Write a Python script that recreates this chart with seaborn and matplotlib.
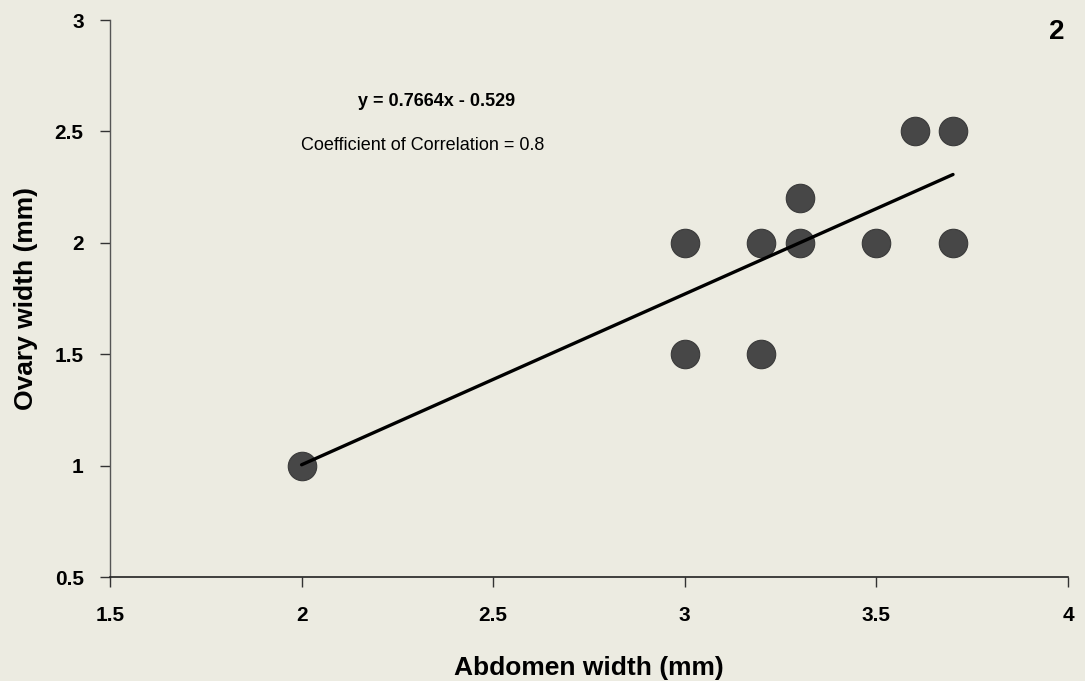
import matplotlib
matplotlib.use("Agg")
import matplotlib.pyplot as plt
import seaborn as sns
import numpy as np
import pandas as pd

abdomen = [2.0, 3.0, 3.0, 3.2, 3.2, 3.3, 3.3, 3.5, 3.6, 3.7, 3.7]
ovary = [1.0, 2.0, 1.5, 2.0, 1.5, 2.2, 2.0, 2.0, 2.5, 2.5, 2.0]
slope = 0.7664
intercept = -0.529
x_ticks = [1.5, 2, 2.5, 3, 3.5, 4]
y_ticks = [0.5, 1, 1.5, 2, 2.5, 3]

df = pd.DataFrame({"Abdomen": abdomen, "Ovary": ovary})

sns.set_style("white")
plt.rcParams["font.family"] = ["Liberation Sans", "DejaVu Sans"]
plt.rcParams["text.color"] = "black"
plt.rcParams["xtick.color"] = "black"
plt.rcParams["ytick.color"] = "black"
plt.rcParams["axes.labelcolor"] = "black"
bg = "#ecebe1"
fig = plt.figure(figsize=(10.85, 6.81), dpi=100, facecolor=bg)
ax = fig.add_axes([0.1014, 0.1527, 0.8829, 0.8179], facecolor=bg)

sns.scatterplot(data=df, x="Abdomen", y="Ovary", ax=ax, s=420, color="#474747",
                edgecolor="#3a3a3a", linewidth=0.8, zorder=3)
lx = np.array([min(abdomen), max(abdomen)])
sns.lineplot(x=lx, y=slope * lx + intercept, ax=ax, color="black", linewidth=2.4, zorder=4)

ax.set_xlim(1.5, 4)
ax.set_ylim(0.5, 3)
ax.set_xticks(x_ticks)
ax.set_yticks(y_ticks)
ax.set_xticklabels([f"{t:g}" for t in x_ticks], fontsize=15, fontweight="bold")
ax.set_yticklabels([f"{t:g}" for t in y_ticks], fontsize=15, fontweight="bold")
ax.tick_params(axis="both", bottom=True, left=True, direction="out", length=7, width=1,
               color="#333333", pad=12)
ax.tick_params(axis="x", pad=14)
for s in ["top", "right"]:
    ax.spines[s].set_visible(False)
ax.spines["left"].set_color("#555555")
ax.spines["left"].set_linewidth(1.0)
ax.spines["bottom"].set_color("#222222")
ax.spines["bottom"].set_linewidth(1.2)
ax.set_xlabel("Abdomen width (mm)", fontsize=19, fontweight="bold", labelpad=22)
ax.set_ylabel("Ovary width (mm)", fontsize=19, fontweight="bold", labelpad=12)

fig.text(437 / 1085, 1 - 102 / 681, "y = 0.7664x - 0.529", ha="center", va="center",
         fontsize=13, fontweight="bold")
fig.text(423 / 1085, 1 - 145 / 681, "Coefficient of Correlation = 0.8", ha="center", va="center",
         fontsize=13)
fig.text(1057 / 1085, 1 - 32 / 681, "2", ha="center", va="center", fontsize=20, fontweight="bold")

fig.savefig("out.png", dpi=100, facecolor=bg)
